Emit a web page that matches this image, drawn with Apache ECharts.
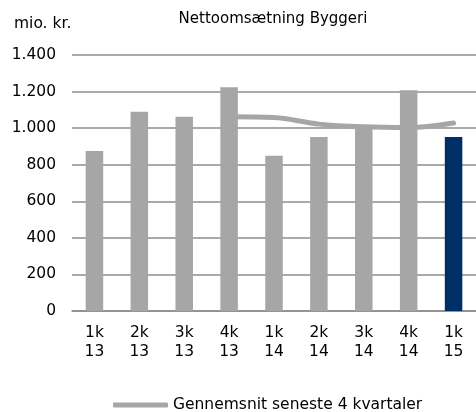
<!DOCTYPE html>
<html>
<head>
<meta charset="utf-8">
<script src="https://cdn.jsdelivr.net/npm/echarts@6/dist/echarts.min.js"></script>
<style>
  html, body { margin: 0; padding: 0; background: #fff; }
  #chart { width: 476px; height: 412px; }
</style>
</head>
<body>
<div id="chart"></div>
<script>
// kvartaler og værdier (mio. kr.)
var categories = ["1k\n13", "2k\n13", "3k\n13", "4k\n13", "1k\n14", "2k\n14", "3k\n14", "4k\n14", "1k\n15"];
var omsaetning = [875, 1090, 1062, 1223, 849, 951, 1002, 1207, 951];
// gennemsnit seneste 4 kvartaler
var gennemsnit = [null, null, null, 1062, 1058, 1022, 1007, 1003, 1028];
var yTicks = [0, 200, 400, 600, 800, 1000, 1200, 1400];

var fontFam = "DejaVu Sans, Verdana, sans-serif";
var grey = "#a6a6a6";
var navy = "#002f67";

var myChart = echarts.init(document.getElementById("chart"));

var option = {
  animation: false,
  title: [
    {
      text: "Nettoomsætning Byggeri",
      left: 268,
      top: 7,
      textAlign: "center",
      textStyle: { fontFamily: fontFam, fontSize: 15, fontWeight: "normal", color: "#000" }
    },
    {
      text: "mio. kr.",
      left: 9,
      top: 11,
      textStyle: { fontFamily: fontFam, fontSize: 15.5, fontWeight: "normal", color: "#000" }
    }
  ],
  grid: {
    left: 72,
    right: 0,
    top: 55,
    bottom: 101
  },
  legend: {
    data: ["Gennemsnit seneste 4 kvartaler"],
    left: 108,
    top: 392,
    icon: "roundRect",
    itemWidth: 55,
    itemHeight: 5,
    itemGap: 5,
    textStyle: { fontFamily: fontFam, fontSize: 15.5, color: "#000" }
  },
  xAxis: {
    type: "category",
    data: categories,
    axisTick: { show: false },
    axisLine: { show: true, lineStyle: { color: "#8c8c8c", width: 1.5 } },
    axisLabel: {
      fontFamily: fontFam,
      fontSize: 15.5,
      color: "#000",
      lineHeight: 19.5,
      margin: 12,
      interval: 0
    }
  },
  yAxis: {
    type: "value",
    min: 0,
    max: 1400,
    interval: 200,
    axisLine: { show: false },
    axisTick: { show: false },
    splitLine: { lineStyle: { color: "#8c8c8c", width: 1.5 } },
    axisLabel: {
      fontFamily: fontFam,
      fontSize: 15.5,
      color: "#000",
      margin: 16,
      formatter: function (v) {
        return yTicks.indexOf(v) >= 0 ? String(v).replace(/\B(?=(\d{3})+(?!\d))/g, ".") : "";
      }
    }
  },
  series: [
    {
      name: "Nettoomsætning",
      type: "bar",
      barWidth: "39%",
      data: omsaetning.map(function (v, i) {
        return {
          value: v,
          itemStyle: { color: i === omsaetning.length - 1 ? navy : grey }
        };
      })
    },
    {
      name: "Gennemsnit seneste 4 kvartaler",
      type: "line",
      data: gennemsnit,
      smooth: 0.35,
      showSymbol: false,
      symbol: "none",
      itemStyle: { color: grey },
      lineStyle: { color: grey, width: 5, cap: "round", join: "round" },
      z: 3
    }
  ]
};

myChart.setOption(option);
</script>
</body>
</html>
